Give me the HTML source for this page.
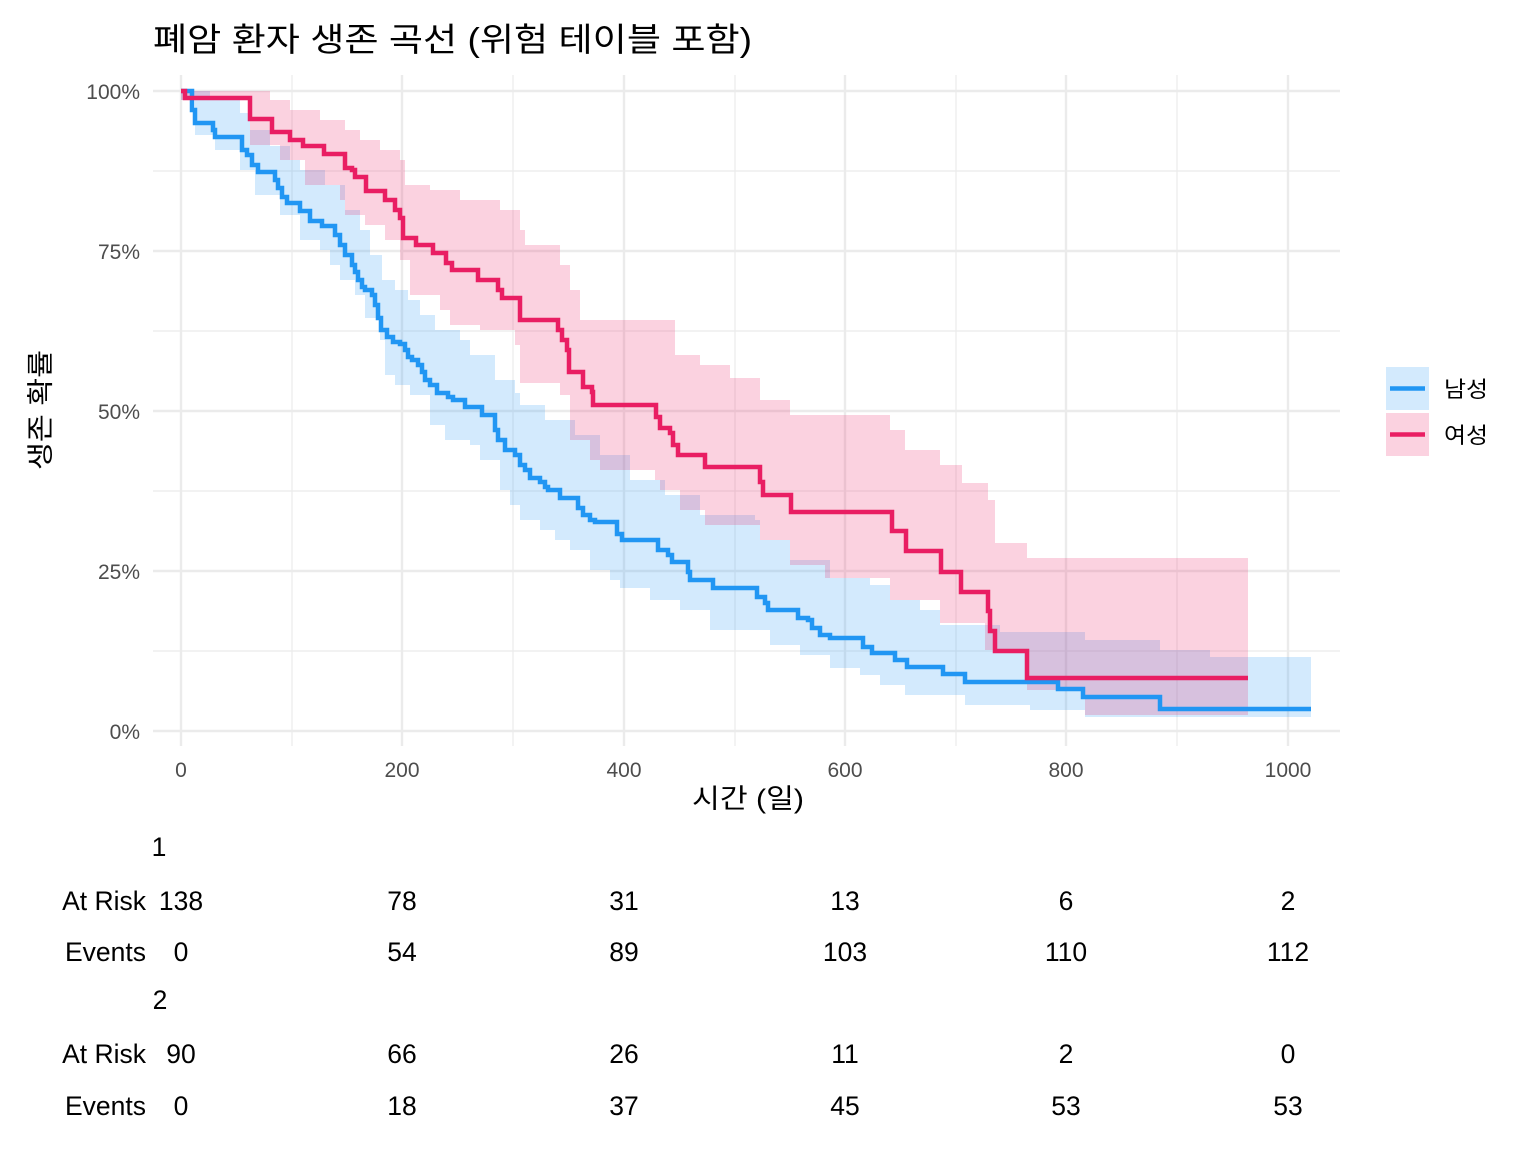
<!DOCTYPE html>
<html><head><meta charset="utf-8"><style>
html,body{margin:0;padding:0;background:#fff;}
svg{display:block;font-family:"Liberation Sans","Noto Sans CJK KR",sans-serif;}
</style></head><body>
<svg id="s" width="1536" height="1152" viewBox="0 0 1536 1152" xmlns="http://www.w3.org/2000/svg">
<rect width="1536" height="1152" fill="#fff"/>
<g stroke="#ebebeb" stroke-width="1.2">
<line x1="153" x2="1340" y1="171" y2="171"/><line x1="153" x2="1340" y1="331" y2="331"/>
<line x1="153" x2="1340" y1="491" y2="491"/><line x1="153" x2="1340" y1="651" y2="651"/>
<line y1="75" y2="746" x1="292" x2="292"/><line y1="75" y2="746" x1="513" x2="513"/>
<line y1="75" y2="746" x1="735" x2="735"/><line y1="75" y2="746" x1="956" x2="956"/>
<line y1="75" y2="746" x1="1177" x2="1177"/>
</g>
<g stroke="#ebebeb" stroke-width="2.4">
<line x1="153" x2="1340" y1="91" y2="91"/><line x1="153" x2="1340" y1="251" y2="251"/>
<line x1="153" x2="1340" y1="411" y2="411"/><line x1="153" x2="1340" y1="571" y2="571"/>
<line x1="153" x2="1340" y1="731" y2="731"/>
<line y1="75" y2="746" x1="181" x2="181"/><line y1="75" y2="746" x1="402" x2="402"/>
<line y1="75" y2="746" x1="624" x2="624"/><line y1="75" y2="746" x1="845" x2="845"/>
<line y1="75" y2="746" x1="1066" x2="1066"/><line y1="75" y2="746" x1="1288" x2="1288"/>
</g>
<g id="bands"></g>
<g id="lines"></g>
<g fill="#4d4d4d" font-size="21" text-anchor="end">
<text x="140" y="99">100%</text><text x="140" y="259">75%</text><text x="140" y="419">50%</text>
<text x="140" y="579">25%</text><text x="140" y="739">0%</text>
</g>
<g fill="#4d4d4d" font-size="21" text-anchor="middle">
<text x="181" y="777">0</text><text x="402" y="777">200</text><text x="624" y="777">400</text>
<text x="845" y="777">600</text><text x="1066" y="777">800</text><text x="1288" y="777">1000</text>
</g>
<text x="692" y="808" font-size="27" textLength="112" lengthAdjust="spacingAndGlyphs" fill="#000">시간 (일)</text>
<text transform="translate(50,470) rotate(-90)" font-size="27" textLength="120" lengthAdjust="spacingAndGlyphs" fill="#000">생존 확률</text>
<text x="153" y="51" font-size="33" textLength="599" lengthAdjust="spacingAndGlyphs" fill="#000">폐암 환자 생존 곡선 (위험 테이블 포함)</text>
<rect x="1386" y="367" width="43" height="43" fill="#2196F3" fill-opacity="0.2"/>
<line x1="1390" x2="1425" y1="388.5" y2="388.5" stroke="#2196F3" stroke-width="4.5"/>
<rect x="1386" y="413" width="43" height="43" fill="#E91E63" fill-opacity="0.2"/>
<line x1="1390" x2="1425" y1="434.5" y2="434.5" stroke="#E91E63" stroke-width="4.5"/>
<text x="1444" y="397" font-size="22" textLength="44" lengthAdjust="spacingAndGlyphs" fill="#000">남성</text>
<text x="1444" y="443" font-size="22" textLength="44" lengthAdjust="spacingAndGlyphs" fill="#000">여성</text>
<g font-size="26.5" fill="#000">
<text x="159" y="856" text-anchor="middle">1</text>
<text x="146" y="910" text-anchor="end">At Risk</text>
<text x="146" y="961" text-anchor="end">Events</text>
<text x="160" y="1009" text-anchor="middle">2</text>
<text x="146" y="1063" text-anchor="end">At Risk</text>
<text x="146" y="1115" text-anchor="end">Events</text>
<g text-anchor="middle">
<text x="181" y="910">138</text><text x="402" y="910">78</text><text x="624" y="910">31</text><text x="845" y="910">13</text><text x="1066" y="910">6</text><text x="1288" y="910">2</text>
<text x="181" y="961">0</text><text x="402" y="961">54</text><text x="624" y="961">89</text><text x="845" y="961">103</text><text x="1066" y="961">110</text><text x="1288" y="961">112</text>
<text x="181" y="1063">90</text><text x="402" y="1063">66</text><text x="624" y="1063">26</text><text x="845" y="1063">11</text><text x="1066" y="1063">2</text><text x="1288" y="1063">0</text>
<text x="181" y="1115">0</text><text x="402" y="1115">18</text><text x="624" y="1115">37</text><text x="845" y="1115">45</text><text x="1066" y="1115">53</text><text x="1288" y="1115">53</text>
</g></g>
</svg>
<script>
function steps(p){let d="M"+p[0][0]+","+p[0][1];for(let i=1;i<p.length;i++){d+=" H"+p[i][0]+" V"+p[i][1];}return d;}
function band(u,l,end){
 let d=steps(u);d+=" H"+end;
 let pts=[];for(let i=0;i<l.length;i++){pts.push([l[i][0],l[i][1]]);if(i+1<l.length)pts.push([l[i+1][0],l[i][1]]);else pts.push([end,l[i][1]]);}
 pts.reverse();for(const q of pts)d+=" L"+q[0]+","+q[1];return d+" Z";}
const bl=[[181,91],[192,110],[195,123],[207,123],[213,130],[215,137],[240,137],[242,150],[247,155],[252,165],[258,172],[268,172],[275,180],[278,188],[282,197],[287,203],[295,203],[300,211],[310,221],[322,226],[330,226],[335,235],[340,245],[345,255],[352,265],[355,272],[358,280],[362,287],[365,290],[372,295],[375,305],[378,318],[381,330],[387,337],[393,342],[400,344],[405,350],[408,357],[412,360],[418,365],[422,372],[425,380],[430,385],[437,393],[448,397],[453,400],[462,400],[465,407],[480,407],[482,415],[493,415],[495,430],[498,440],[505,450],[515,455],[520,465],[525,470],[530,478],[540,482],[545,487],[548,490],[558,490],[560,498],[575,498],[578,508],[583,515],[590,520],[595,522],[610,522],[617,534],[622,540],[655,540],[658,550],[668,555],[672,562],[682,562],[688,572],[690,580],[710,580],[713,588],[755,588],[757,597],[765,603],[768,610],[795,610],[798,618],[808,620],[812,628],[820,635],[830,638],[860,638],[863,647],[872,653],[892,653],[895,660],[905,660],[907,667],[940,667],[943,674],[963,674],[965,682],[1056,682],[1058,689],[1082,689],[1083,697],[1158,697],[1160,709],[1311,709]];
const rd=[[181,91],[185,98],[248,98],[250,119],[268,119],[272,132],[287,132],[290,140],[300,140],[303,146],[320,146],[324,154],[343,154],[345,168],[352,170],[355,177],[363,177],[366,191],[380,191],[385,200],[392,200],[395,210],[400,218],[403,238],[414,238],[416,245],[430,245],[433,253],[442,253],[446,263],[452,270],[475,270],[478,280],[495,280],[498,290],[502,298],[515,298],[520,320],[555,320],[558,330],[562,340],[567,350],[569,372],[580,372],[583,387],[592,392],[593,405],[653,405],[656,417],[660,428],[670,433],[673,445],[678,455],[702,455],[705,467],[757,467],[760,482],[763,495],[790,495],[791,512],[890,512],[892,531],[905,531],[906,551],[940,551],[941,572],[960,572],[961,592],[986,592],[988,611],[990,631],[995,651],[1026,651],[1027,678],[1248,678]];
const bu=[[181,91],[210,98],[240,113],[250,130],[270,146],[290,160],[300,170],[325,185],[345,210],[360,230],[370,255],[382,280],[395,290],[408,300],[420,315],[435,330],[460,340],[470,355],[495,380],[515,393],[520,405],[545,420],[575,435],[600,455],[630,480],[665,495],[700,515],[755,520],[760,540],[790,560],[830,578],[870,585],[890,600],[920,610],[940,625],[1000,632],[1085,640],[1160,650],[1210,657]];
const blo=[[181,100],[195,135],[215,150],[240,170],[255,195],[280,215],[300,240],[320,250],[330,265],[340,280],[355,295],[365,318],[380,340],[385,375],[395,385],[410,395],[430,425],[445,440],[470,445],[480,460],[500,490],[510,505],[520,520],[540,530],[555,540],[570,550],[590,570],[610,580],[620,588],[650,600],[680,610],[710,630],[770,645],[800,655],[830,668],[860,675],[880,685],[905,695],[965,705],[1030,710],[1085,717]];
const ru=[[181,91],[250,91],[270,100],[290,110],[320,120],[345,130],[360,140],[380,150],[400,160],[405,185],[430,190],[460,200],[500,210],[520,230],[525,245],[560,265],[570,290],[580,320],[655,320],[675,355],[700,365],[730,378],[760,400],[790,415],[890,430],[905,450],[940,465],[962,483],[988,500],[995,543],[1027,558]];
const rlo=[[181,100],[240,100],[250,145],[280,160],[305,185],[340,200],[345,215],[365,225],[385,240],[400,260],[410,295],[440,310],[450,325],[480,330],[515,345],[520,383],[560,395],[570,440],[590,460],[600,470],[655,480],[660,490],[680,510],[705,525],[760,540],[790,565],[825,578],[890,600],[940,623],[985,650],[1027,690],[1085,715]];
const NS="http://www.w3.org/2000/svg";
function add(g,d,attrs){const p=document.createElementNS(NS,"path");p.setAttribute("d",d);for(const k in attrs)p.setAttribute(k,attrs[k]);document.getElementById(g).appendChild(p);}
add("bands",band(bu,blo,1311),{fill:"#2196F3","fill-opacity":"0.2"});
add("bands",band(ru,rlo,1248),{fill:"#E91E63","fill-opacity":"0.2"});
add("lines",steps(bl),{fill:"none",stroke:"#2196F3","stroke-width":"4.5"});
add("lines",steps(rd),{fill:"none",stroke:"#E91E63","stroke-width":"4.5"});
</script>
</body></html>
